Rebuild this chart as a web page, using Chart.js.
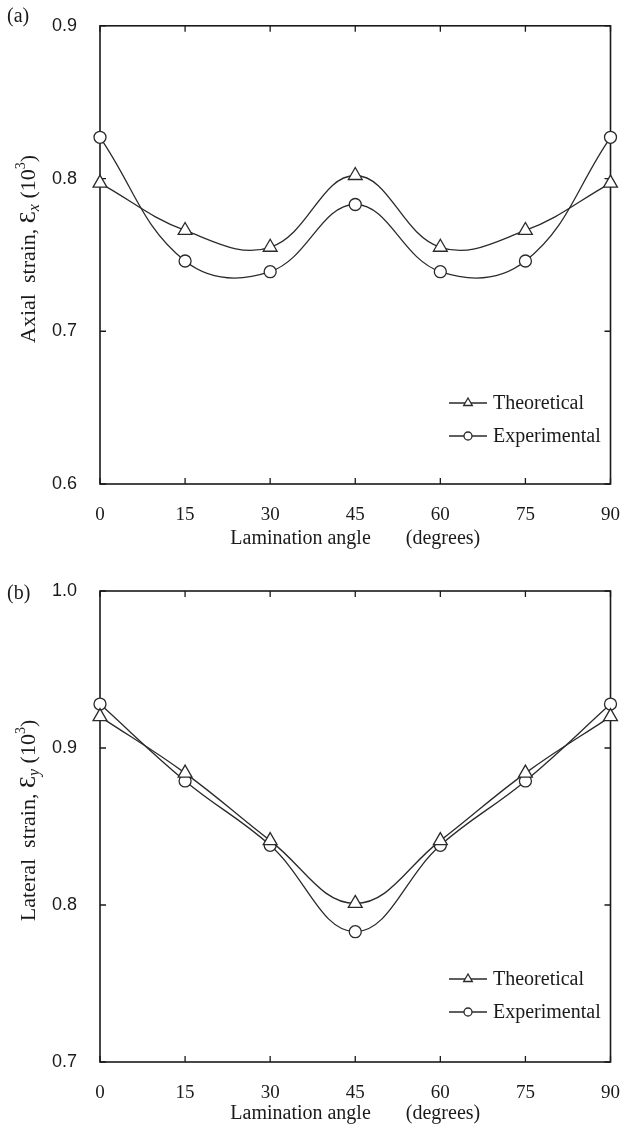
<!DOCTYPE html>
<html>
<head>
<meta charset="utf-8">
<script src="https://cdn.jsdelivr.net/npm/chart.js@4.4.1/dist/chart.umd.min.js"></script>
<style>
  html, body { margin: 0; padding: 0; background: #fff; }
  #wrap { position: relative; width: 632px; height: 1129px; }
  #wrap canvas { position: absolute; left: 0; }
</style>
</head>
<body>
<div id="wrap">
  <canvas id="chartA" width="632" height="560" style="top:0"></canvas>
  <canvas id="chartB" width="632" height="569" style="top:560px"></canvas>
</div>
<script>
// lamination angle (deg) and measured / predicted strains (x 10^3)
const angles = [0, 15, 30, 45, 60, 75, 90];
const axialTheory = [0.797, 0.766, 0.755, 0.802, 0.755, 0.766, 0.797];
const axialExp = [0.827, 0.746, 0.739, 0.783, 0.739, 0.746, 0.827];
const lateralTheory = [0.920, 0.884, 0.841, 0.801, 0.841, 0.884, 0.920];
const lateralExp = [0.928, 0.879, 0.838, 0.783, 0.838, 0.879, 0.928];

const axialTicks = [0.6, 0.7, 0.8, 0.9];
const lateralTicks = [0.7, 0.8, 0.9, 1.0];

const INK = "#2a2a2a";
const SERIF = "'Liberation Serif', 'Times New Roman', serif";
const SANS = "'Liberation Sans', Arial, sans-serif";

function drawMarker(ctx, style, x, y, r) {
    ctx.beginPath();
    if (style === "triangle") {
        for (let k = 0; k < 3; k++) {
            const a = k * 2 * Math.PI / 3;
            const px = x + Math.sin(a) * r, py = y - Math.cos(a) * r;
            k === 0 ? ctx.moveTo(px, py) : ctx.lineTo(px, py);
        }
        ctx.closePath();
    } else {
        ctx.arc(x, y, r, 0, Math.PI * 2);
    }
    ctx.fill();
    ctx.stroke();
}

// frame + inward tick marks on all four sides
const framePlugin = {
    id: "frame",
    beforeDatasetsDraw(chart) {
        const { ctx, chartArea: a, scales } = chart;
        ctx.save();
        ctx.strokeStyle = "#1a1a1a";
        ctx.lineWidth = 1.6;
        ctx.strokeRect(a.left, a.top, a.right - a.left, a.bottom - a.top);
        ctx.lineWidth = 1.3;
        ctx.beginPath();
        scales.x.ticks.forEach(t => {
            const px = scales.x.getPixelForValue(t.value);
            ctx.moveTo(px, a.bottom); ctx.lineTo(px, a.bottom - 6);
            ctx.moveTo(px, a.top); ctx.lineTo(px, a.top + 6);
        });
        scales.y.ticks.forEach(t => {
            const py = scales.y.getPixelForValue(t.value);
            ctx.moveTo(a.left, py); ctx.lineTo(a.left + 6, py);
            ctx.moveTo(a.right, py); ctx.lineTo(a.right - 6, py);
        });
        ctx.stroke();
        ctx.restore();
    }
};

// legend drawn inside the plot: short line with marker, then the label
const lineLegendPlugin = {
    id: "lineLegend",
    afterDatasetsDraw(chart, args, opts) {
        const { ctx } = chart;
        ctx.save();
        ctx.font = "20px " + SERIF;
        ctx.textBaseline = "middle";
        chart.data.datasets.forEach((ds, i) => {
            const y = opts.y + i * opts.gap;
            ctx.strokeStyle = ds.borderColor;
            ctx.lineWidth = ds.borderWidth;
            ctx.beginPath();
            ctx.moveTo(opts.x, y); ctx.lineTo(opts.x + 38, y);
            ctx.stroke();
            ctx.fillStyle = "#fff";
            drawMarker(ctx, ds.pointStyle, opts.x + 19, y, ds.pointStyle === "triangle" ? 5 : 4);
            ctx.fillStyle = "#1a1a1a";
            ctx.fillText(ds.label, opts.x + 44, y + 1);
        });
        ctx.restore();
    }
};

// rotated y title with subscript / superscript pieces, plus the panel tag
const sideTextPlugin = {
    id: "sideText",
    afterDraw(chart, args, opts) {
        const { ctx, chartArea: a } = chart;
        ctx.save();
        ctx.fillStyle = "#1a1a1a";
        ctx.textBaseline = "alphabetic";
        ctx.font = "20px " + SERIF;
        ctx.fillText(opts.tag, 7, opts.tagY);

        const pieces = [
            { t: opts.name + "  strain, ", f: "22px " + SERIF, dy: 0 },
            { t: "\u0190", f: "24px " + SERIF, dy: 0 },
            { t: opts.sub, f: "italic 16px " + SERIF, dy: 4 },
            { t: " (10", f: "22px " + SERIF, dy: 0 },
            { t: "3", f: "14px " + SERIF, dy: -10 },
            { t: ")", f: "22px " + SERIF, dy: 0 }
        ];
        let total = 0;
        pieces.forEach(p => { ctx.font = p.f; p.w = ctx.measureText(p.t).width; total += p.w; });
        ctx.translate(35, (a.top + a.bottom) / 2 + opts.shift);
        ctx.rotate(-Math.PI / 2);
        let x = -total / 2;
        pieces.forEach(p => {
            ctx.font = p.f;
            ctx.fillText(p.t, x, p.dy);
            x += p.w;
        });
        ctx.restore();
    }
};

function makeChart(id, theory, exp, yTicks, opts) {
    const toPts = arr => angles.map((a, i) => ({ x: a, y: arr[i] }));
    const common = {
        borderColor: INK,
        borderWidth: 1.3,
        pointBackgroundColor: "#fff",
        pointBorderColor: INK,
        pointBorderWidth: 1.3,
        tension: 0.4,
        clip: false
    };
    return new Chart(document.getElementById(id), {
        type: "line",
        data: {
            datasets: [
                { ...common, label: "Theoretical", data: toPts(theory), pointStyle: "triangle", pointRadius: 8 },
                { ...common, label: "Experimental", data: toPts(exp), pointStyle: "circle", pointRadius: 6 }
            ]
        },
        options: {
            responsive: false,
            animation: false,
            layout: { padding: { top: opts.top, right: 12, left: 0, bottom: 0 } },
            plugins: {
                legend: { display: false },
                tooltip: { enabled: false },
                lineLegend: opts.legend,
                sideText: opts.side
            },
            scales: {
                x: {
                    type: "linear",
                    min: 0, max: 90,
                    afterBuildTicks: s => { s.ticks = angles.map(v => ({ value: v })); },
                    afterFit: s => { s.height = opts.xHeight; },
                    grid: { display: false },
                    border: { display: false },
                    ticks: { padding: 12, color: "#1a1a1a", font: { family: SERIF, size: 19 }, maxRotation: 0 },
                    title: {
                        display: true,
                        text: "Lamination angle       (degrees)",
                        color: "#1a1a1a",
                        font: { family: SERIF, size: 20 },
                        padding: { top: 0, bottom: opts.titlePad }
                    }
                },
                y: {
                    min: yTicks[0], max: yTicks[yTicks.length - 1],
                    afterBuildTicks: s => { s.ticks = yTicks.map(v => ({ value: v })); },
                    afterFit: s => { s.width = 100; },
                    grid: { display: false },
                    border: { display: false },
                    ticks: {
                        padding: 15, color: "#1a1a1a",
                        font: { family: SANS, size: 18 },
                        callback: v => Number(v).toFixed(1)
                    }
                }
            }
        },
        plugins: [framePlugin, lineLegendPlugin, sideTextPlugin]
    });
}

makeChart("chartA", axialTheory, axialExp, axialTicks, {
    top: 23, xHeight: 76, titlePad: 9,
    legend: { x: 449, y: 403, gap: 33 },
    side: { tag: "(a)", tagY: 22, name: "Axial", sub: "x", shift: -6 }
});

makeChart("chartB", lateralTheory, lateralExp, lateralTicks, {
    top: 31, xHeight: 67, titlePad: 3,
    legend: { x: 449, y: 419, gap: 33 },
    side: { tag: "(b)", tagY: 39, name: "Lateral", sub: "y", shift: -6 }
});
</script>
</body>
</html>
